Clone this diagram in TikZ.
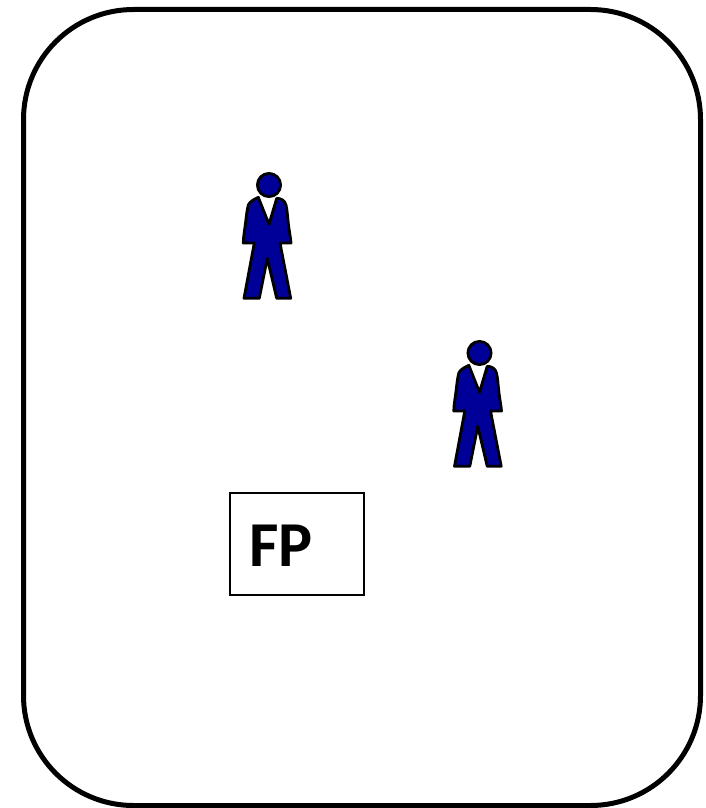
\documentclass[tikz,border=0pt]{standalone}
\usepackage{fontspec}
\setmainfont{Carlito}
\usetikzlibrary{positioning}
\definecolor{suitBlue}{HTML}{000099}
\tikzset{
  roomframe/.style={rectangle, draw=black, line width=5pt, rounded corners=110pt,
                    minimum width=677pt, minimum height=796pt, inner sep=0pt},
  fpbox/.style={rectangle, draw=black, line width=1.6pt, align=left,
                minimum height=102pt, text width=95pt, inner xsep=19.5pt,
                text height=44pt, text depth=0pt,
                font=\fontsize{64}{64}\selectfont\bfseries},
  person/.pic={
    \draw[draw=black, fill=suitBlue, line width=2.8pt, line join=round]
      (-10.7,12.3) -- (0,39.3) -- (7.7,13.3)
      .. controls (12,13.5) and (15.5,15) .. (17,20)
      .. controls (18.5,27) and (18.5,32) .. (19.3,38.3)
      .. controls (20,45) and (21.5,52) .. (22,58) -- (11,58)
      -- (21.7,113.3) -- (7.7,113.3) -- (-1.7,73.3) -- (-9.7,113.3)
      -- (-25,113.3) -- (-14.7,58) -- (-25.7,58)
      .. controls (-25.5,50) and (-24,43) .. (-23.3,36.7)
      .. controls (-22.5,30) and (-22,25) .. (-20.7,20)
      .. controls (-19,16) and (-14,14) .. (-10.7,12.3) -- cycle;
    \draw[draw=black, fill=suitBlue, line width=2.8pt] (0,0) circle (11.6);
  }
}
\begin{document}
\begin{tikzpicture}[x=1pt, y=-1pt]
  \useasboundingbox (0,0) rectangle (706,808);
  \node[roomframe] (room) at (362,407.5) {};
  \pic (personA) at (269,185) {person};
  \pic (personB) at (479.5,353) {person};
  \node[fpbox] (fp) at (297,544) {FP};
\end{tikzpicture}
\end{document}
